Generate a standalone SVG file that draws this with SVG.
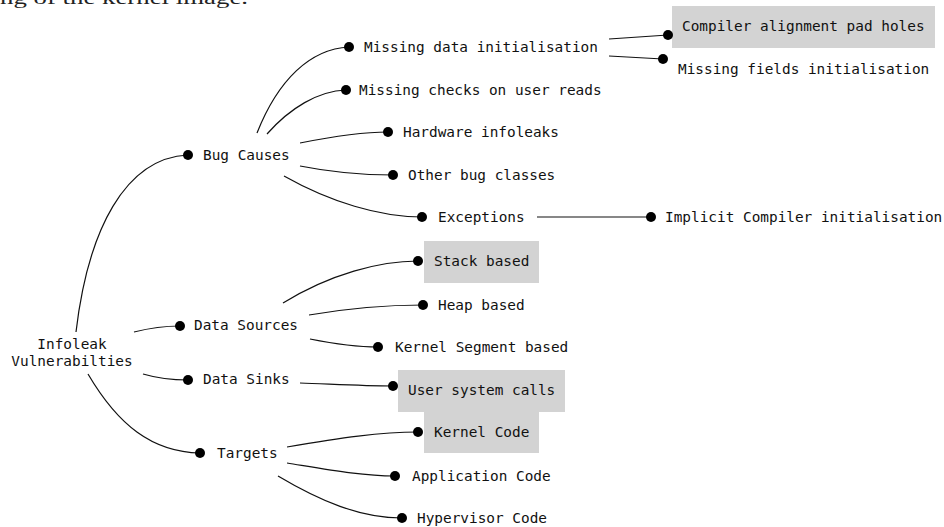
<svg xmlns="http://www.w3.org/2000/svg" width="944" height="527" viewBox="0 0 944 527">
  <style>
    .lbl { font-family: "DejaVu Sans Mono", "Liberation Mono", monospace; font-size: 14.4px; fill: #111; }
    .edge { fill: none; stroke: #111; stroke-width: 1.2; }
    .dot { fill: #000; }
    .hl { fill: #d3d3d3; }
  </style>
  <rect width="944" height="527" fill="#fff"/>
  <!-- trailing line of the preceding paragraph, clipped at the top edge -->
  <text x="0" y="4" font-family="Liberation Serif, serif" font-size="19" fill="#222" textLength="248" lengthAdjust="spacingAndGlyphs">ng of the kernel image.</text>

  <g id="connectors">
    <!-- root to level 1 -->
    <path class="edge" d="M76,332 C88,230 125,158 188,155"/>
    <path class="edge" d="M134,332 C150,328 162,326 180,326"/>
    <path class="edge" d="M143,374 C160,379 172,380 188,380"/>
    <path class="edge" d="M88,374 C118,425 152,452 200,453"/>
    <!-- Bug Causes -->
    <path class="edge" d="M257,133 C278,80 310,49 349,47"/>
    <path class="edge" d="M267,134 C290,108 318,91 346,90"/>
    <path class="edge" d="M300,143 C330,137 360,132 388,132"/>
    <path class="edge" d="M300,166 C330,172 362,175 393,175"/>
    <path class="edge" d="M284,176 C330,202 380,217 422,217"/>
    <!-- second level -->
    <path class="edge" d="M609,39 L668,35"/>
    <path class="edge" d="M609,56 L663,59"/>
    <path class="edge" d="M537,217 L651,217"/>
    <!-- Data Sources -->
    <path class="edge" d="M283,303 C330,274 380,261 418,261"/>
    <path class="edge" d="M309,315 C350,308 390,305 423,305"/>
    <path class="edge" d="M310,339 C335,344 356,347 378,347"/>
    <!-- Data Sinks -->
    <path class="edge" d="M300,383 C330,384 362,386 393,386"/>
    <!-- Targets -->
    <path class="edge" d="M287,447 C340,438 380,432 418,432"/>
    <path class="edge" d="M287,463 C330,470 362,476 395,476"/>
    <path class="edge" d="M278,476 C320,501 360,518 402,518"/>
  </g>

  <g id="root">
    <text class="lbl" x="72" y="349" text-anchor="middle">Infoleak</text>
    <text class="lbl" x="72" y="366" text-anchor="middle">Vulnerabilties</text>
  </g>

  <g id="bug-causes">
    <circle class="dot" cx="188" cy="155" r="5"/>
    <text class="lbl" x="203" y="160">Bug Causes</text>
  </g>
  <g id="data-sources">
    <circle class="dot" cx="180" cy="326" r="5"/>
    <text class="lbl" x="194" y="330">Data Sources</text>
  </g>
  <g id="data-sinks">
    <circle class="dot" cx="188" cy="380" r="5"/>
    <text class="lbl" x="203" y="384">Data Sinks</text>
  </g>
  <g id="targets">
    <circle class="dot" cx="200" cy="453" r="5"/>
    <text class="lbl" x="217" y="458">Targets</text>
  </g>

  <g id="missing-data-init">
    <circle class="dot" cx="349" cy="47" r="5"/>
    <text class="lbl" x="364" y="52">Missing data initialisation</text>
  </g>
  <g id="missing-checks">
    <circle class="dot" cx="346" cy="90" r="5"/>
    <text class="lbl" x="359" y="95">Missing checks on user reads</text>
  </g>
  <g id="hardware-infoleaks">
    <circle class="dot" cx="388" cy="132" r="5"/>
    <text class="lbl" x="403" y="137">Hardware infoleaks</text>
  </g>
  <g id="other-bug-classes">
    <circle class="dot" cx="393" cy="175" r="5"/>
    <text class="lbl" x="408" y="180">Other bug classes</text>
  </g>
  <g id="exceptions">
    <circle class="dot" cx="422" cy="217" r="5"/>
    <text class="lbl" x="438" y="222">Exceptions</text>
  </g>

  <g id="compiler-pad-holes">
    <rect class="hl" x="672" y="6" width="263" height="42"/>
    <circle class="dot" cx="668" cy="35" r="5"/>
    <text class="lbl" x="682" y="31">Compiler alignment pad holes</text>
  </g>
  <g id="missing-fields-init">
    <circle class="dot" cx="663" cy="59" r="5"/>
    <text class="lbl" x="678" y="74">Missing fields initialisation</text>
  </g>
  <g id="implicit-compiler-init">
    <circle class="dot" cx="651" cy="217" r="5"/>
    <text class="lbl" x="665" y="222">Implicit Compiler initialisation</text>
  </g>

  <g id="stack-based">
    <rect class="hl" x="424" y="241" width="115" height="42"/>
    <circle class="dot" cx="418" cy="261" r="5"/>
    <text class="lbl" x="434" y="266">Stack based</text>
  </g>
  <g id="heap-based">
    <circle class="dot" cx="423" cy="305" r="5"/>
    <text class="lbl" x="438" y="310">Heap based</text>
  </g>
  <g id="kernel-segment-based">
    <circle class="dot" cx="378" cy="347" r="5"/>
    <text class="lbl" x="395" y="352">Kernel Segment based</text>
  </g>

  <g id="user-system-calls">
    <rect class="hl" x="398" y="370" width="167" height="42"/>
    <circle class="dot" cx="393" cy="386" r="5"/>
    <text class="lbl" x="408" y="395">User system calls</text>
  </g>

  <g id="kernel-code">
    <rect class="hl" x="424" y="412" width="115" height="41"/>
    <circle class="dot" cx="418" cy="432" r="5"/>
    <text class="lbl" x="434" y="437">Kernel Code</text>
  </g>
  <g id="application-code">
    <circle class="dot" cx="395" cy="476" r="5"/>
    <text class="lbl" x="412" y="481">Application Code</text>
  </g>
  <g id="hypervisor-code">
    <circle class="dot" cx="402" cy="518" r="5"/>
    <text class="lbl" x="417" y="523">Hypervisor Code</text>
  </g>
</svg>
